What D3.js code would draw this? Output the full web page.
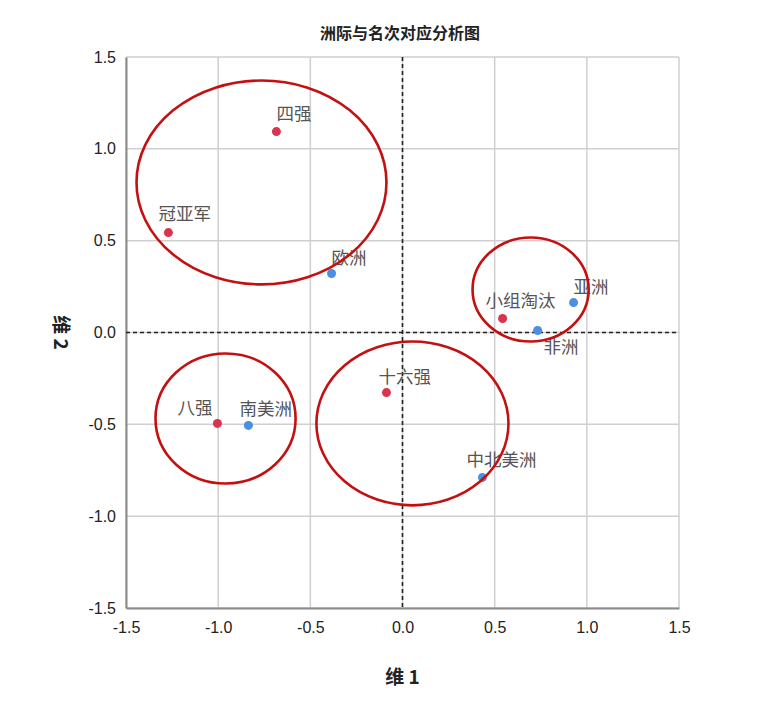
<!DOCTYPE html>
<html><head><meta charset="utf-8">
<script src="https://cdn.jsdelivr.net/npm/d3@7/dist/d3.min.js"></script>
<style>
html,body{margin:0;padding:0;background:#fff;}
svg{display:block;}
</style></head>
<body>
<svg id="chart" width="760" height="701"></svg>
<script>
// ---- data ----
const pointNames = ["四强","冠亚军","欧洲","小组淘汰","亚洲","非洲","十六强","八强","南美洲","中北美洲"];
const pointDim1 = [-0.684,-1.27,-0.385,0.543,0.928,0.733,-0.087,-1.004,-0.836,0.434];
const pointDim2 = [1.094,0.544,0.321,0.076,0.163,0.011,-0.327,-0.495,-0.506,-0.789];
const pointGroup = ["名次","名次","洲际","名次","洲际","洲际","名次","名次","洲际","洲际"];
const tickValues = [-1.5,-1.0,-0.5,0.0,0.5,1.0,1.5];
// annotation ellipses (data units): centre dim1, centre dim2, radius dim1, radius dim2
const ellipseCx = [-0.765,0.695,-0.960,0.054];
const ellipseCy = [0.817,0.234,-0.468,-0.495];
const ellipseRx = [0.678,0.315,0.380,0.521];
const ellipseRy = [0.555,0.283,0.354,0.446];
const titleText = "洲际与名次对应分析图";
const xTitle = "维 1", yTitle = "维 2";

// ---- layout / style ----
const labelDx = [0,-10,0,-17,0,6,-8,-40,-9,-16];
const labelDy = [-12,-13,-10,-12,-10,23,-10,-9,-10,-11];
const colors = {"名次":"#d9344f","洲际":"#4a8fe0"};
const L=126, R=679, T=57, B=608;

const svg = d3.select("#chart");
const x = d3.scaleLinear().domain([-1.5,1.5]).range([L,R]);
const y = d3.scaleLinear().domain([-1.5,1.5]).range([B,T]);
const fmt = d => d.toFixed(1);

// grid
const g = svg.append("g");
g.selectAll(".vg").data(tickValues).join("line")
  .attr("x1",d=>x(d)).attr("x2",d=>x(d)).attr("y1",T).attr("y2",B)
  .attr("stroke","#cfcfcf").attr("stroke-width",1.5);
g.selectAll(".hg").data(tickValues).join("line")
  .attr("y1",d=>y(d)).attr("y2",d=>y(d)).attr("x1",L).attr("x2",R)
  .attr("stroke","#cfcfcf").attr("stroke-width",1.5);

// axes
const xAxis = d3.axisBottom(x).tickValues(tickValues).tickFormat(fmt).tickSize(0).tickPadding(14);
const yAxis = d3.axisLeft(y).tickValues(tickValues).tickFormat(fmt).tickSize(0).tickPadding(10);
const gx = svg.append("g").attr("transform",`translate(0,${B})`).call(xAxis);
const gy = svg.append("g").attr("transform",`translate(${L},0)`).call(yAxis);
[gx,gy].forEach(a=>{
  a.select(".domain").attr("stroke","#8a8a8a").attr("stroke-width",2);
  a.selectAll("text").attr("font-family","Liberation Sans, Arial, sans-serif")
   .attr("font-size",16).attr("fill","#222");
});

// zero reference lines
svg.append("line").attr("x1",x(0)).attr("x2",x(0)).attr("y1",T).attr("y2",B)
  .attr("stroke","#222").attr("stroke-width",1.6).attr("stroke-dasharray","4,3");
svg.append("line").attr("x1",L).attr("x2",R).attr("y1",y(0)).attr("y2",y(0))
  .attr("stroke","#222").attr("stroke-width",1.6).attr("stroke-dasharray","4,3");

// points
const pts = pointNames.map((n,i)=>({n,x:pointDim1[i],y:pointDim2[i],g:pointGroup[i],dx:labelDx[i],dy:labelDy[i]}));
svg.selectAll(".pt").data(pts).join("circle")
  .attr("cx",d=>x(d.x)).attr("cy",d=>y(d.y)).attr("r",4.5)
  .attr("fill",d=>colors[d.g]);
svg.selectAll(".lb").data(pts).join("text")
  .attr("x",d=>x(d.x)+d.dx).attr("y",d=>y(d.y)+d.dy)
  .attr("font-family","Noto Sans CJK SC, sans-serif").attr("font-size",17.5)
  .attr("fill","#555").text(d=>d.n);

// ellipses
const ells = ellipseCx.map((c,i)=>({cx:c,cy:ellipseCy[i],rx:ellipseRx[i],ry:ellipseRy[i]}));
svg.selectAll(".el").data(ells).join("ellipse")
  .attr("cx",d=>x(d.cx)).attr("cy",d=>y(d.cy))
  .attr("rx",d=>x(d.rx)-x(0)).attr("ry",d=>y(0)-y(d.ry))
  .attr("fill","none").attr("stroke","#c41010").attr("stroke-width",2.6);

// titles
svg.append("text").attr("x",400).attr("y",39).attr("text-anchor","middle")
  .attr("font-family","Noto Sans CJK SC, sans-serif").attr("font-weight","bold")
  .attr("font-size",16).attr("fill","#222").text(titleText);
svg.append("text").attr("x",x(0)).attr("y",684).attr("text-anchor","middle")
  .attr("font-family","Noto Sans CJK SC, sans-serif").attr("font-weight","bold")
  .attr("font-size",19).attr("fill","#222").text(xTitle);
svg.append("text").attr("transform",`translate(54,${y(0)}) rotate(90)`).attr("text-anchor","middle")
  .attr("font-family","Noto Sans CJK SC, sans-serif").attr("font-weight","bold")
  .attr("font-size",19).attr("fill","#222").text(yTitle);
</script>
</body></html>
